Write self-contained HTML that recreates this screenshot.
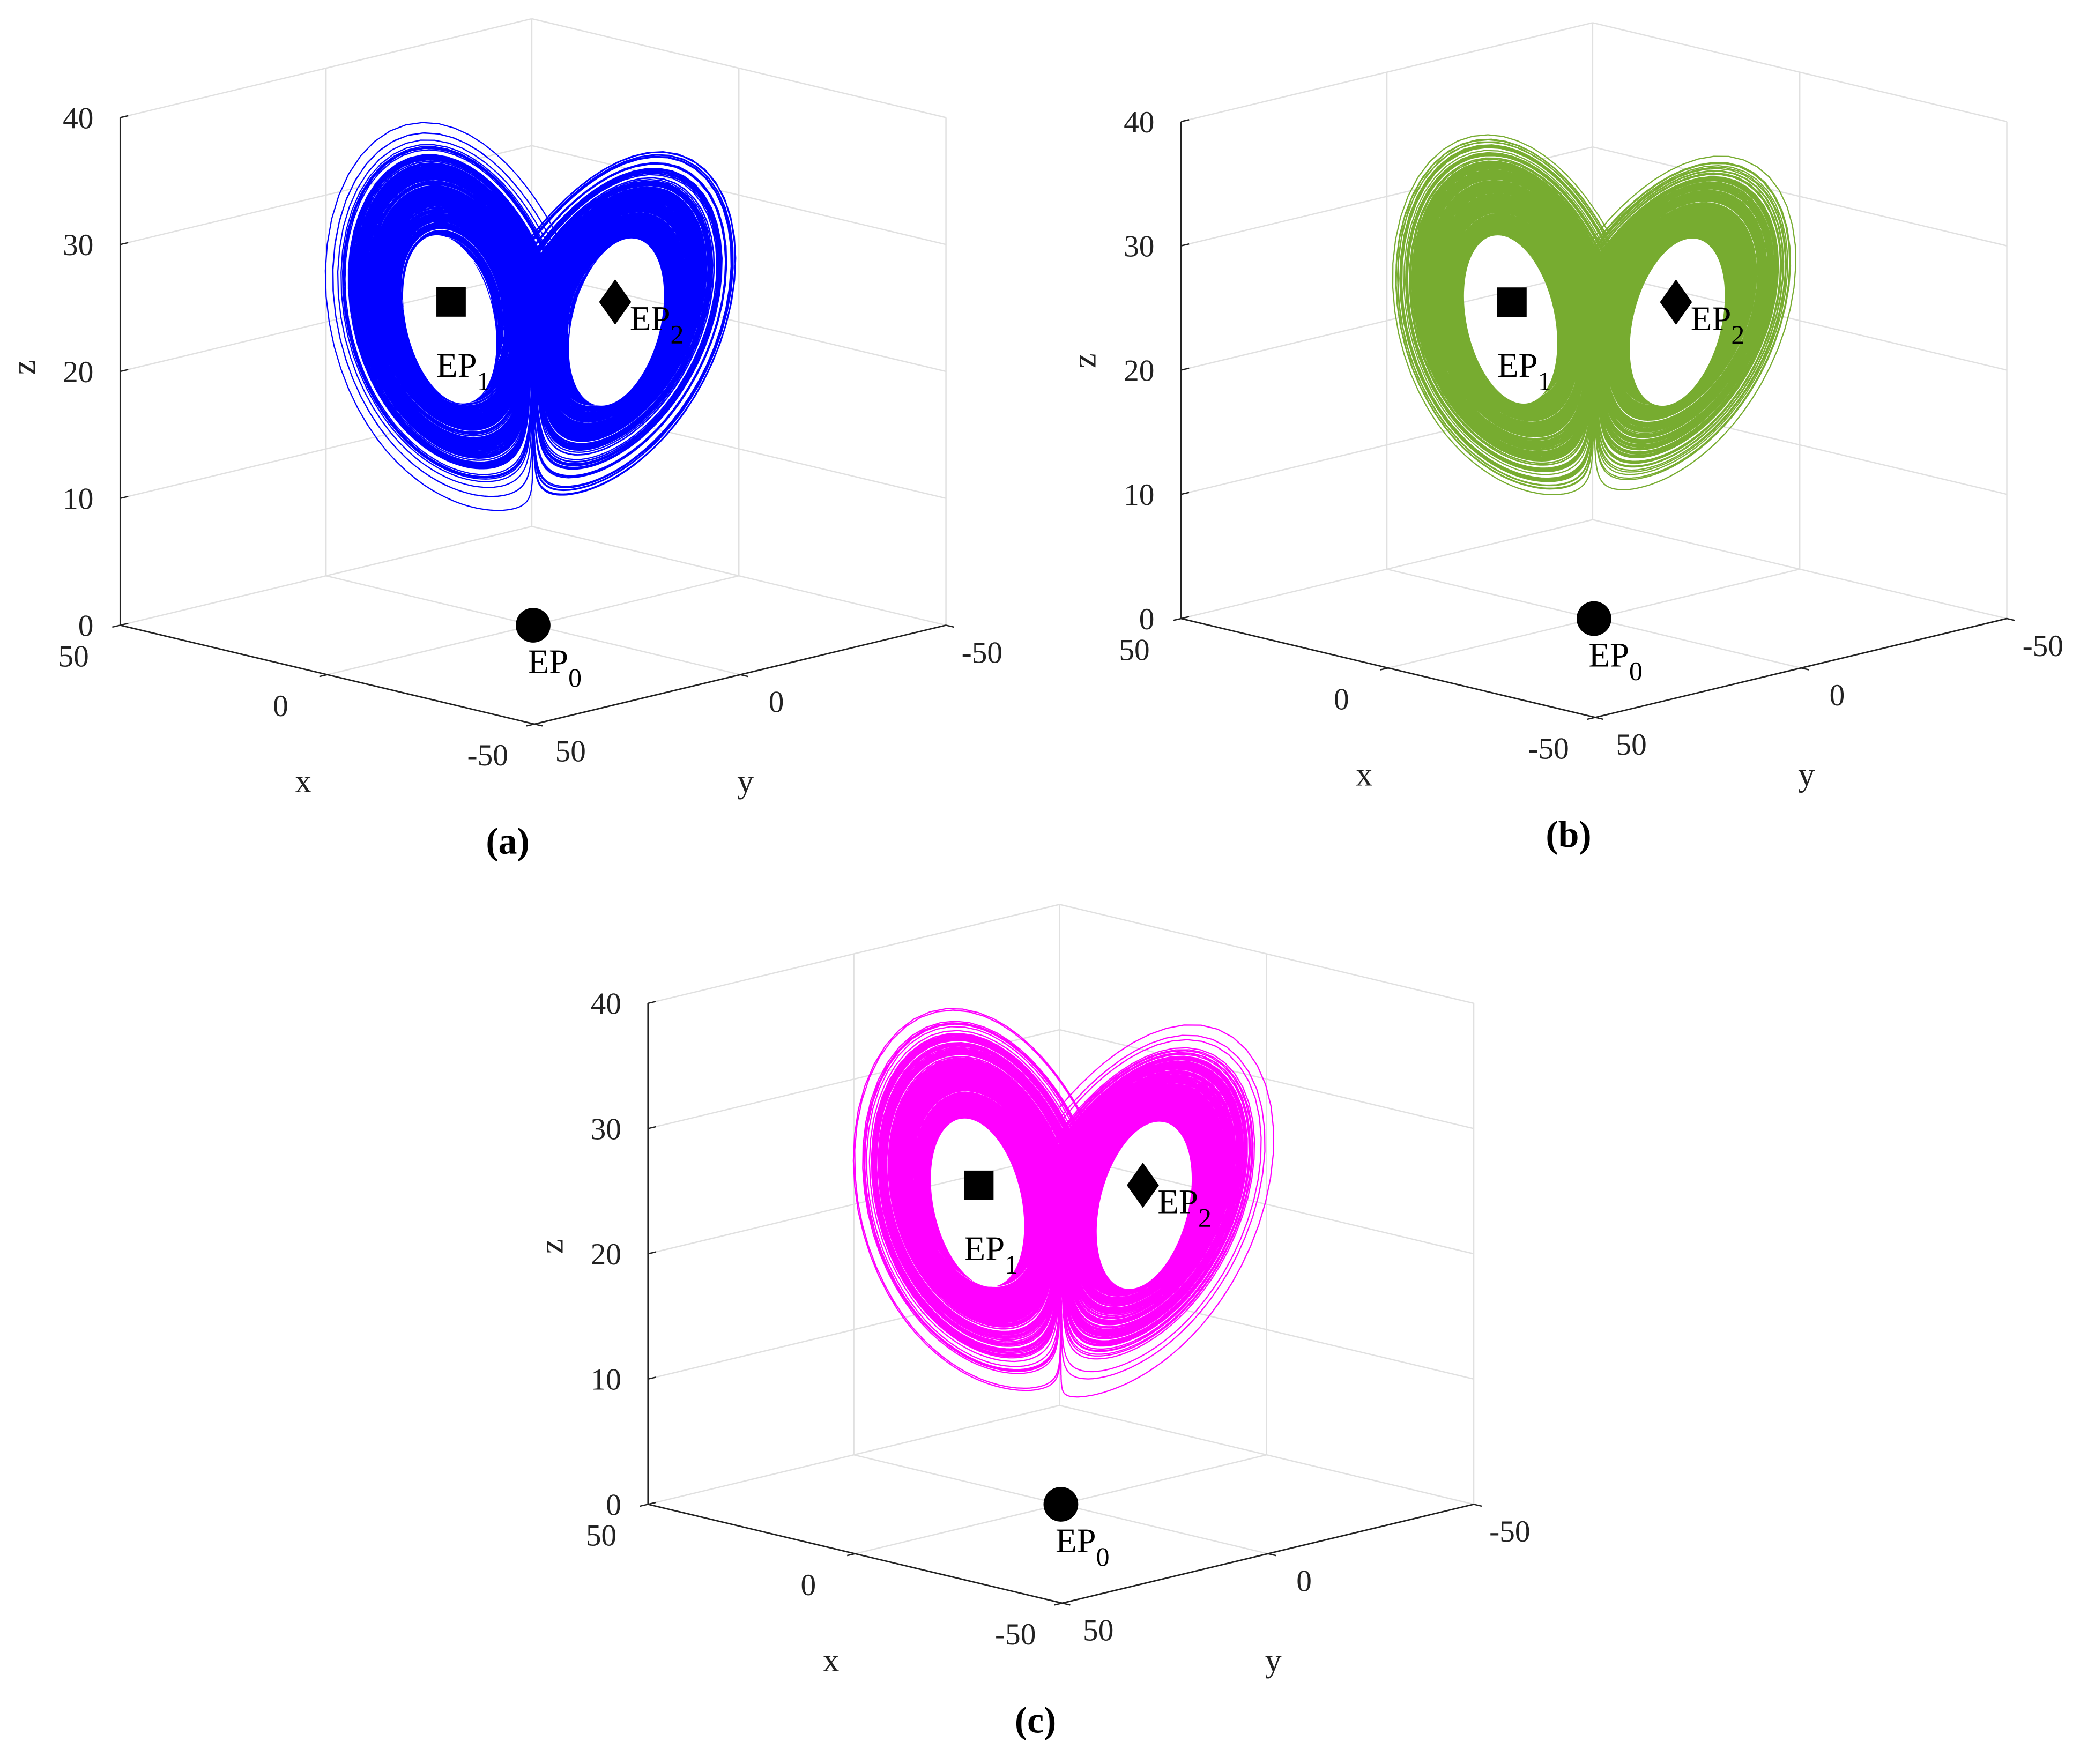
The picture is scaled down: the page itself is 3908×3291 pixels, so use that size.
<!DOCTYPE html>
<html><head><meta charset="utf-8"><style>
html,body{margin:0;padding:0;background:#fff;}
svg{display:block;}
text{font-family:"Liberation Serif",serif;fill:#222;}
</style></head><body>
<svg id="fig" xmlns="http://www.w3.org/2000/svg" width="3908" height="3291" viewBox="0 0 1568 1320.4">
<rect x="0" y="0" width="1568" height="1321" fill="#fff"/>
<defs id="defs"></defs>
</svg>
<script>
// ---- data ----
const zTicks = [0, 10, 20, 30, 40];
const xTicks = [50, 0, -50];
const yTicks = [50, 0, -50];
const epX = [0, 8.49, -8.49];
const epY = [0, 8.49, -8.49];
const epZ = [0, 27, 27];
const epNames = ['0', '1', '2'];
const sigmaVals = [10, 10, 10];
const rhoVals = [28, 28, 28];
const betaVals = [8/3, 8/3, 8/3];
const initX = [1, 1.2, 0.9];
const initY = [1, 1.1, 1.3];
const initZ = [1, 1.0, 1.1];
const captions = ['(a)', '(b)', '(c)'];

const panels = [
  {ox:399, oy:468, zs:9.5, color:'#0000ff'},
  {ox:1193, oy:463, zs:9.3, color:'#77ac30'},
  {ox:794, oy:1126, zs:9.375, color:'#ff00ff'}
];
const NS = 'http://www.w3.org/2000/svg';
const svg = document.getElementById('fig');
const defs = document.getElementById('defs');
function mk(tag, parent){ const e=document.createElementNS(NS,tag); parent.appendChild(e); return e; }
const XY_SCALE = 1.17;
function zmap(z){ return 24.8 + (z-26)*0.67; }

panels.forEach((p, pi) => {
  const P = (x,y,z) => [p.ox - 3.1*x - 3.08*y, p.oy - 0.74*x + 0.74*y - p.zs*z];
  const g = mk('g', svg);
  
  
  const grid = mk('g', g);
  
  
  function gl(a, b, stroke, w, parent){
    const l = mk('line', parent);
    l.setAttribute('x1', a[0]); l.setAttribute('y1', a[1]);
    l.setAttribute('x2', b[0]); l.setAttribute('y2', b[1]);
    l.setAttribute('stroke', stroke); l.setAttribute('stroke-width', w);
    return l;
  }
  zTicks.forEach(z => {
    if (z === 0) return;
    let l = gl(P(50,50,z), P(50,-50,z), '#e0e0e0', 1, grid);
    
    
    l = gl(P(50,-50,z), P(-50,-50,z), '#e0e0e0', 1, grid);
    
    
  });
  [0, -50].forEach(y => {
    const l = gl(P(50,y,0), P(50,y,40), '#e0e0e0', 1, grid);
    
    
  });
  [0, -50].forEach(x => {
    const l = gl(P(x,-50,0), P(x,-50,40), '#e0e0e0', 1, grid);
    
    
  });
  [0, 50].forEach(x => {
    const l = gl(P(x,50,0), P(x,-50,0), '#e0e0e0', 1, grid);
    
    
  });
  [0, -50].forEach(y => {
    const l = gl(P(50,y,0), P(-50,y,0), '#e0e0e0', 1, grid);
    
    
  });

  const epPos = epX.map((ex, k) => k === 0 ? P(ex, epY[k], epZ[k]) : P(ex*XY_SCALE, epY[k]*XY_SCALE, zmap(epZ[k])));

  // hole mask (white interiors of the wings)
  const mask = mk('mask', defs);
  mask.setAttribute('id', 'holes' + pi);
  mask.setAttribute('maskUnits', 'userSpaceOnUse');
  mask.setAttribute('x', 0); mask.setAttribute('y', 0);
  mask.setAttribute('width', 1568); mask.setAttribute('height', 1321);
  const mr = mk('rect', mask);
  mr.setAttribute('x', 0); mr.setAttribute('y', 0);
  mr.setAttribute('width', 1568); mr.setAttribute('height', 1321);
  mr.setAttribute('fill', '#fff');
  [[1, -1, 13, -12], [2, 1, 15, 14]].forEach(h => {
    const c = epPos[h[0]];
    const e = mk('ellipse', mask);
    const cx = c[0]+h[1], cy = c[1]+h[2];
    e.setAttribute('cx', cx); e.setAttribute('cy', cy);
    e.setAttribute('rx', 33); e.setAttribute('ry', 64);
    e.setAttribute('transform', 'rotate(' + h[3] + ' ' + cx + ' ' + cy + ')');
    e.setAttribute('fill', '#000');
  });

  // trajectory (RK4 integration)
  const s = sigmaVals[pi], r = rhoVals[pi], b = betaVals[pi];
  let x = initX[pi], y = initY[pi], z = initZ[pi];
  const f = (x,y,z) => [s*(y-x), x*(r-z)-y, x*y-b*z];
  const dt = 0.008;
  let d = '';
  for (let i = 0; i < 60000; i++) {
    const k1 = f(x,y,z);
    const k2 = f(x+dt/2*k1[0], y+dt/2*k1[1], z+dt/2*k1[2]);
    const k3 = f(x+dt/2*k2[0], y+dt/2*k2[1], z+dt/2*k2[2]);
    const k4 = f(x+dt*k3[0], y+dt*k3[1], z+dt*k3[2]);
    x += dt/6*(k1[0]+2*k2[0]+2*k3[0]+k4[0]);
    y += dt/6*(k1[1]+2*k2[1]+2*k3[1]+k4[1]);
    z += dt/6*(k1[2]+2*k2[2]+2*k3[2]+k4[2]);
    if (i < 600) continue;
    const q = P(x*XY_SCALE, y*XY_SCALE, zmap(z));
    d += (d ? 'L' : 'M') + q[0].toFixed(1) + ' ' + q[1].toFixed(1);
  }
  const path = mk('path', g);
  path.setAttribute('d', d);
  path.setAttribute('fill', 'none');
  path.setAttribute('stroke', p.color);
  path.setAttribute('stroke-width', '0.9');
  path.setAttribute('mask', 'url(#holes' + pi + ')');
  
  

  // axes
  const ax = mk('g', g);
  
  
  let l = gl(P(50,50,0), P(50,50,40), '#222', 1.1, ax);
  
  
  l = gl(P(50,50,0), P(-50,50,0), '#222', 1.1, ax);
  
  
  l = gl(P(-50,50,0), P(-50,-50,0), '#222', 1.1, ax);
  
  

  zTicks.forEach(zt => {
    const q = P(50,50,zt);
    const tk = gl(q, [q[0]+6, q[1]-1.4], '#222', 1, ax);
    
    
    const t = mk('text', ax);
    t.setAttribute('x', q[0]-20); t.setAttribute('y', q[1]+8);
    t.setAttribute('text-anchor', 'end'); t.setAttribute('font-size', '23');
    t.textContent = zt;
    
    
  });
  xTicks.forEach(xt => {
    const q = P(xt,50,0);
    const tk = gl(q, [q[0]-6, q[1]+1.4], '#222', 1, ax);
    
    
    const t = mk('text', ax);
    t.setAttribute('x', q[0]-35); t.setAttribute('y', q[1]+31);
    t.setAttribute('text-anchor', 'middle'); t.setAttribute('font-size', '23');
    t.textContent = xt;
    
    
  });
  yTicks.forEach(yt => {
    const q = P(-50,yt,0);
    const tk = gl(q, [q[0]+6, q[1]+1.4], '#222', 1, ax);
    
    
    const t = mk('text', ax);
    t.setAttribute('x', q[0]+27); t.setAttribute('y', q[1]+28);
    t.setAttribute('text-anchor', 'middle'); t.setAttribute('font-size', '23');
    t.textContent = yt;
    
    
  });
  let t = mk('text', ax);
  t.setAttribute('x', p.ox-172); t.setAttribute('y', p.oy+125);
  t.setAttribute('text-anchor', 'middle'); t.setAttribute('font-size', '25');
  t.textContent = 'x';
  
  
  t = mk('text', ax);
  t.setAttribute('x', p.ox+159); t.setAttribute('y', p.oy+125);
  t.setAttribute('text-anchor', 'middle'); t.setAttribute('font-size', '25');
  t.textContent = 'y';
  
  
  t = mk('text', ax);
  t.setAttribute('transform', 'translate(' + (p.ox-373) + ',' + (p.oy-193) + ') rotate(-90)');
  t.setAttribute('text-anchor', 'middle'); t.setAttribute('font-size', '25');
  t.textContent = 'z';
  
  

  // equilibrium points
  const eg = mk('g', g);
  
  
  epX.forEach((ex, k) => {
    const qq = epPos[k];
    let m, lx, ly;
    if (k === 0) {
      m = mk('circle', eg);
      m.setAttribute('cx', qq[0]); m.setAttribute('cy', qq[1]); m.setAttribute('r', 13);
      lx = qq[0]-4; ly = qq[1]+36;
    } else if (k === 1) {
      m = mk('rect', eg);
      m.setAttribute('x', qq[0]-11); m.setAttribute('y', qq[1]-11);
      m.setAttribute('width', 22); m.setAttribute('height', 22);
      lx = qq[0]-11; ly = qq[1]+56;
    } else {
      m = mk('polygon', eg);
      m.setAttribute('points', [[qq[0],qq[1]-17],[qq[0]+12,qq[1]],[qq[0],qq[1]+17],[qq[0]-12,qq[1]]].map(a=>a.join(',')).join(' '));
      lx = qq[0]+11; ly = qq[1]+21;
    }
    m.setAttribute('fill', '#000');
    
    
    const lt = mk('text', eg);
    lt.setAttribute('x', lx); lt.setAttribute('y', ly);
    lt.setAttribute('font-size', '26');
    
    
    lt.style.fill = '#000';
    lt.appendChild(document.createTextNode('EP'));
    const sub = mk('tspan', lt);
    sub.setAttribute('dy', '10'); sub.setAttribute('font-size', '20');
    sub.textContent = epNames[k];
  });

  t = mk('text', g);
  t.setAttribute('x', p.ox-19); t.setAttribute('y', p.oy+171);
  t.setAttribute('text-anchor', 'middle'); t.setAttribute('font-size', '28');
  t.setAttribute('font-weight', 'bold');
  t.style.fill = '#000';
  t.textContent = captions[pi];
  
  
});
</script>
</body></html>
